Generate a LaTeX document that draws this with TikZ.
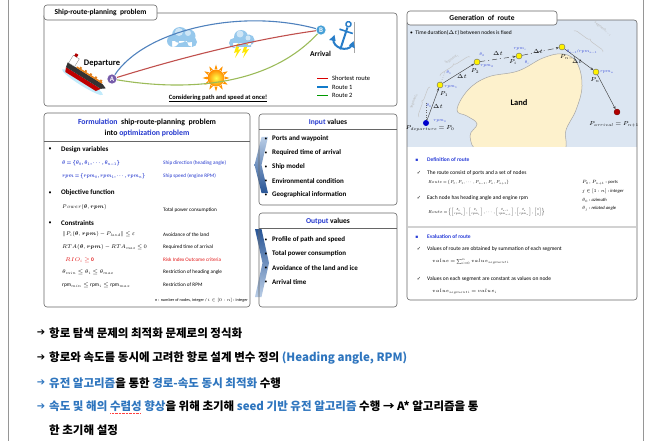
\RequirePackage{fix-cm}
\documentclass[tikz,border=0pt]{standalone}
\usepackage{amsmath}
\usepackage{graphicx}
\usepackage{fontspec}
\setmainfont{Carlito}
\newfontfamily\kr{Noto Sans CJK KR}
\newfontfamily\dv{DejaVu Sans}
\usetikzlibrary{decorations.pathreplacing,arrows.meta}
\newcommand\fsz[1]{\fontsize{#1}{#1}\selectfont}
\newcommand\tightmath{\thinmuskip=2mu\medmuskip=2.5mu\thickmuskip=3mu}
\newcommand\narrow[2]{\scalebox{#1}[1]{#2}}
\newsavebox\spellbox
\newcommand\spellmark[1]{\sbox\spellbox{#1}\rlap{\textcolor{red!75}{\raisebox{-2.8pt}{\hbox to \wd\spellbox{\leaders\hbox to 1.4pt{\hss\rule{0.7pt}{0.6pt}\hss}\hfill}}}}\usebox\spellbox}
\definecolor{framegray}{RGB}{150,150,150}
\definecolor{hdrblue}{RGB}{35,55,205}
\definecolor{korblue}{RGB}{46,117,190}
\definecolor{mapbg}{RGB}{220,230,242}
\definecolor{landfill}{RGB}{253,241,204}
\definecolor{lblblue}{RGB}{40,60,215}
\definecolor{rtblue}{RGB}{79,129,189}
\definecolor{rtred}{RGB}{192,80,77}
\definecolor{rtgreen}{RGB}{155,187,89}
\definecolor{purpleA}{RGB}{118,92,170}
\definecolor{blueB}{RGB}{70,160,215}
\definecolor{anchorblue}{RGB}{40,125,200}
\definecolor{cloudblue}{RGB}{150,200,236}
\definecolor{chevdark}{RGB}{40,85,150}
\definecolor{chevlight}{RGB}{185,205,230}
\definecolor{riskred}{RGB}{225,20,20}
\begin{document}
\begin{tikzpicture}[x=1pt,y=-1pt,
  panel/.style={draw=black!60, line width=0.6pt, rounded corners=3pt},
  tl/.style={inner sep=0pt, anchor=west},
  tr/.style={inner sep=0pt, anchor=east},
  tc/.style={inner sep=0pt},
  portpt/.style={circle, inner sep=0pt, minimum size=10pt, text=white, font=\bfseries\fsz{7}},
  route/.style={line width=1.1pt},
  waypt/.style={circle, inner sep=0pt, minimum size=6pt, draw=black!60, line width=0.4pt, fill=yellow},
  leg/.style={draw=black!75, line width=0.45pt, -{Stealth[length=3pt,width=2.4pt]}},
  rlab/.style={inner sep=0pt, text=lblblue, font=\fsz{4}\tightmath},
  plab/.style={inner sep=0pt, font=\fsz{5.8}\tightmath},
  dtlab/.style={inner sep=0pt, font=\fsz{5.8}},
  seg/.style={draw=gray!45, line width=0.5pt, decorate, decoration={brace, amplitude=3pt}},
  segtxt/.style={inner sep=0pt, text=gray!55, font=\fsz{3.8}},
  body/.style={inner sep=0pt, anchor=west, font=\bfseries\fsz{7}},
  eqn/.style={inner sep=0pt, anchor=west, font=\fsz{5.4}\tightmath},
  small/.style={inner sep=0pt, anchor=west, font=\fsz{5.2}},
  tiny/.style={inner sep=0pt, anchor=west, font=\fsz{5.5}},
  reqn/.style={inner sep=0pt, anchor=west, font=\fsz{4.3}\tightmath},
  note/.style={inner sep=0pt, anchor=west, font=\fsz{4.6}\tightmath},
  kor/.style={inner sep=0pt, anchor=west, font=\kr\bfseries\fsz{11.5}},
  karrow/.style={inner sep=0pt, font=\dv\bfseries\fsz{10}}]
\useasboundingbox (0,0) rectangle (648,441);

% outer page frame
\draw[framegray, line width=0.8pt] (8,0) -- (8,441);
\draw[framegray, line width=0.8pt] (643,0) -- (643,441);

% ---------------- ship route planning problem ----------------
\draw[panel] (44,13) rectangle (397,106);
\draw[panel, fill=white] (44,5) rectangle (157,20);
\node[tc, font=\bfseries\fsz{7.5}] (title1) at (100.5,12.8) {Ship-route-planning\ \ problem};

% ship at departure
\begin{scope}[shift={(84,76)}, rotate=-32]
  \fill[cyan!30, opacity=0.8] (2,6) ellipse (24 and 3.5);
  \fill[red!75!black] (-20,2) -- (21,2) -- (18,6.5) -- (-18,6.5) -- cycle;
  \fill[black!80] (-21,-3) -- (20,-3) -- (25,-1) -- (21,2) -- (-20,2) -- cycle;
  \fill[orange!70!brown] (-11,-4.5) rectangle (19,-3);
  \foreach \xx in {-8,-2,4,10,16} \fill[orange!50!brown] (\xx,-6) rectangle (\xx+2,-3);
  \fill[white, draw=gray, line width=0.3pt] (-20,-12) rectangle (-13,-3);
  \fill[red!70!black] (-19,-15) rectangle (-16,-12);
\end{scope}

% cloud
\begin{scope}[shift={(182,37)}]
  \fill[cloudblue] (-9,4) circle (6) (-2,-2) circle (8) (7,-1) circle (6.5) (10,5) circle (5) (-10,4) rectangle (10,10);
  \fill[white, opacity=0.55] (-3,-5) circle (4) (6,-4) circle (3);
\end{scope}
% thunder cloud
\begin{scope}[shift={(242,40)}]
  \fill[yellow!90!orange] (-5,4) -- (-8,13) -- (-5,12) -- (-7,18) -- (-1,9) -- (-4,10) -- (-2,4) -- cycle;
  \fill[yellow!90!orange] (3,4) -- (0,13) -- (3,12) -- (1,18) -- (7,9) -- (4,10) -- (6,4) -- cycle;
  \fill[cloudblue] (-8,3) circle (5) (-1,-3) circle (7) (7,0) circle (5.5) (-9,3) rectangle (9,7);
  \fill[white, opacity=0.55] (-2,-6) circle (3.5) (6,-2) circle (2.5);
\end{scope}
% sun
\begin{scope}[shift={(216,78)}]
  \foreach \a in {0,30,...,330}
    \fill[orange!85!yellow] (\a:13.5) -- (\a+9:9) -- (\a-9:9) -- cycle;
  \shade[inner color=yellow!70, outer color=orange!90!yellow] (0,0) circle (8.5);
\end{scope}

% anchor at arrival
\draw[gray!70, line width=0.5pt] (354,22) -- (354,53);
\begin{scope}[shift={(344,38)}, rotate=-18, anchorblue]
  \draw[line width=2pt] (0,-11) -- (0,12);
  \draw[line width=1.4pt] (0,-14.5) circle (2.6);
  \draw[line width=1.6pt] (-7,-7) -- (7,-7);
  \draw[line width=2pt] (-10,4) .. controls (-8,13) and (8,13) .. (10,4);
  \fill (-10,0) -- (-13.5,6.5) -- (-7,5.5) -- cycle;
  \fill (10,0) -- (13.5,6.5) -- (7,5.5) -- cycle;
\end{scope}

% ports and routes
\node[portpt, fill=purpleA, draw=white, line width=0.5pt] (ptA) at (112,79) {A};
\node[portpt, fill=blueB, draw=white, line width=0.5pt] (ptB) at (321,30) {B};
\draw[route, rtblue] (ptA) .. controls (145,30) and (240,8) .. (ptB);
\draw[route, rtred] (ptA) .. controls (180,58) and (250,40) .. (ptB);
\draw[route, rtgreen] (ptA) .. controls (190,92) and (270,85) .. (ptB);

\node[tc, font=\bfseries\fsz{8.5}] (dep) at (102,63) {Departure};
\node[tc, font=\bfseries\fsz{7.5}] (arr) at (320.5,53.5) {Arrival};
\node[tc, font=\bfseries\fsz{6.5}] (consider) at (218,98.5) {\underline{Considering path and speed at once!}};

% legend
\draw[red!85!black, line width=1.2pt] (317,78.5) -- (328,78.5);
\draw[cyan!60!blue, line width=1.2pt] (317,87) -- (328,87);
\draw[green!60!black, line width=1.2pt] (317,95.5) -- (328,95.5);
\node[tl, font=\fsz{6.5}] (leg1) at (332,78.5) {Shortest route};
\node[tl, font=\fsz{6.5}] (leg2) at (332,87) {Route 1};
\node[tl, font=\fsz{6.5}] (leg3) at (332,95.5) {Route 2};

% ---------------- formulation ----------------
\draw[panel] (44,113) rectangle (250,307);
\draw[black!60, line width=0.6pt] (44,141) -- (250,141);
\node[tc, font=\bfseries\fsz{7.8}] (form1) at (147,122) {\textcolor{hdrblue}{Formulation}\ \ ship-route-planning\ \ problem};
\node[tc, font=\bfseries\fsz{7.8}] (form2) at (147,133.5) {into \textcolor{hdrblue}{optimization problem}};

\node[tc, font=\fsz{6}] (b1) at (50,149.5) {•};
\node[body] (desv) at (61,149.5) {Design variables};
\node[eqn, text=hdrblue] (eq1) at (62,163) {\narrow{0.78}{$\boldsymbol{\theta = \{\theta_0, \theta_1, \cdots, \theta_{n-1}\}}$}};
\node[eqn, text=hdrblue] (eq2) at (62,176) {\narrow{0.72}{$\boldsymbol{rpm = \{rpm_0, rpm_1, \cdots, rpm_n\}}$}};
\node[small, text=hdrblue] (d1) at (163,163) {Ship direction (heading angle)};
\node[small, text=hdrblue] (d2) at (163,176) {Ship speed (engine RPM)};

\node[tc, font=\fsz{6}] (b2) at (50,193) {•};
\node[body] (objf) at (61,193) {Objective function};
\node[eqn] (eq3) at (62,207.5) {\narrow{0.85}{$Power(\boldsymbol{\theta}, \boldsymbol{rpm})$}};
\node[small] (d3) at (163,210) {Total power consumption};

\node[tc, font=\fsz{6}] (b3) at (50,223) {•};
\node[body] (cons) at (61,223) {Constraints};
\node[eqn] (c1) at (62,234.5) {\narrow{0.9}{$\|P_i(\boldsymbol{\theta}, \boldsymbol{rpm}) - P_{land}\| \le \varepsilon$}};
\node[eqn] (c2) at (62,247) {\narrow{0.9}{$RTA(\boldsymbol{\theta}, \boldsymbol{rpm}) - RTA_{max} \le 0$}};
\node[eqn, text=riskred] (c3) at (65,260) {$RIO_i \ge \mathbf{0}$};
\node[eqn] (c4) at (62,272.5) {$\theta_{min} \le \theta_i \le \theta_{max}$};
\node[eqn] (c5) at (62,285) {$\mathrm{rpm}_{min} \le \mathrm{rpm}_i \le \mathrm{rpm}_{max}$};
\node[small] (d4) at (163,234.5) {Avoidance of the land};
\node[small] (d5) at (163,247) {Required time of arrival};
\node[small, text=riskred] (d6) at (163,260) {Risk Index Outcome criteria};
\node[small] (d7) at (163,272.5) {Restriction of heading angle};
\node[small] (d8) at (163,285) {Restriction of RPM};
\node[tr, font=\fsz{4.2}] (fn) at (248,300) {n : number of nodes, integer / $i \in [0:n]$ : integer};

% chevrons between the panels
\shade[top color=chevlight, bottom color=chevdark] (268,137) -- (261.5,137) -- (254.5,165) -- (261.5,193) -- (268,193) -- (261.5,165) -- cycle;
\shade[top color=chevdark, bottom color=chevlight] (255,229) -- (261.5,229) -- (269,263) -- (261.5,297) -- (255,297) -- (262.5,263) -- cycle;

% ---------------- input values ----------------
\draw[panel] (259,114) rectangle (397,205);
\draw[black!60, line width=0.6pt] (259,129) -- (397,129);
\node[tc, font=\bfseries\fsz{7.5}] (inT) at (328,122) {\textcolor{hdrblue}{Input} values};
\foreach \yy/\txt [count=\k] in {139/Ports and waypoint, 153/Required time of arrival, 167/Ship model, 181/Environmental condition, 195/Geographical information}{
  \node[tc, font=\fsz{5.5}] (inb\k) at (266,\yy) {•};
  \node[body] (in\k) at (272,\yy) {\txt};
}

% ---------------- output values ----------------
\draw[panel] (259,213) rectangle (397,307);
\draw[black!60, line width=0.6pt] (259,228) -- (397,228);
\node[tc, font=\bfseries\fsz{7.5}] (outT) at (328,221) {\textcolor{hdrblue}{Output} values};
\foreach \yy/\txt [count=\k] in {240/Profile of path and speed, 254/Total power consumption, 268/Avoidance of the land and ice, 282/Arrival time}{
  \node[tc, font=\fsz{5.5}] (outb\k) at (266,\yy) {•};
  \node[body] (out\k) at (272,\yy) {\txt};
}

% ---------------- generation of route ----------------
\begin{scope}
  \clip[rounded corners=3pt] (407,20) rectangle (637,300);
  \fill[mapbg] (407,20) rectangle (637,147);
  \clip (407,20) rectangle (637,147);
  \draw[fill=landfill, draw=gray!70, line width=0.5pt] plot[smooth cycle, tension=0.65] coordinates
    {(457,110) (468,90) (488,77) (518,71) (543,58) (563,54) (577,63) (582,86) (576,110) (566,130) (562,152) (520,154) (480,152) (470,136) (477,124) (467,116)};
\end{scope}
\draw[panel] (407,20) rectangle (637,300);
\draw[gray!35, line width=1.3pt] (408,227) -- (636,227);
\draw[panel, fill=white] (407,11) rectangle (557,25);
\node[tc, font=\bfseries\fsz{7.5}] (genT) at (482,18) {Generation\ \ of\ \ route};
\node[tl, font=\fsz{5.5}] (tdur) at (410,33) {•\ \ Time duration($\Delta t$) between nodes is fixed};
\node[tc, font=\bfseries\fsz{8.5}] (landT) at (519,103) {Land};

% route nodes
\node[circle, inner sep=0pt, minimum size=6pt, fill=blue!80!black] (p0) at (426,123) {};
\node[waypt] (p1) at (440,85) {};
\node[waypt] (p2) at (477,62) {};
\node[waypt] (pi) at (519,56) {};
\node[waypt] (pn1) at (562,47) {};
\node[waypt] (pn) at (596,72) {};
\node[circle, inner sep=0pt, minimum size=6pt, fill=red!70!black, draw=red!40!black, line width=0.3pt] (pn2) at (617,112) {};

\draw[black!60, dotted, line width=0.4pt] (p0) -- ++(0,-22);
\draw[black!60, dotted, line width=0.4pt] (p1) -- ++(5,-13);
\draw[leg] (p0) -- (p1);
\draw[leg] (p1) -- (p2);
\draw[leg, dash pattern=on 5pt off 3pt on 1pt off 3pt] (p2) -- (pi);
\draw[leg, dash pattern=on 6pt off 3pt on 1pt off 3pt] (pi) -- (pn1);
\draw[leg] (pn1) -- (pn);
\draw[leg] (pn) -- (pn2);

% node labels
\node[plab] (lp0) at (430,128.5) {$P_{departure} = P_0$};
\node[plab] (lp1) at (444,94) {$P_1$};
\node[plab] (lp2) at (475,71) {$P_2$};
\node[plab] (lpi) at (513,62) {$P_i$};
\node[plab] (lpn1) at (568,57) {$P_{n-1}$};
\node[plab] (lpn) at (595,80) {$P_n$};
\node[plab] (lpn2) at (614,124) {$P_{arrival} = P_{n+1}$};

\node[rlab] (r0) at (440,121) {$rpm_0$};
\node[rlab] (t0) at (429,106) {$\theta_0$};
\node[dtlab] (dt0) at (438,107) {$\Delta t$};
\node[rlab] (r1) at (451,87) {$rpm_1$};
\node[rlab] (t1) at (449,73) {$\theta_1$};
\node[dtlab] (dt1) at (462,77) {$\Delta t$};
\node[rlab] (t2) at (482,55) {$\theta_2$};
\node[rlab] (r2) at (487,66) {$rpm_2$};
\node[dtlab] (dt2) at (498,54) {$\Delta t$};
\node[rlab] (ri) at (520,49.5) {$rpm_i$};
\node[rlab] (ti) at (527,63) {$\theta_i$};
\node[dtlab] (dti) at (538,52) {$\Delta t$};
\node[rlab] (tn1) at (582,51.5) {$\theta_{n-1}$/$rpm_{n-1}$};
\node[dtlab] (dtn1) at (577,62) {$\Delta t$};
\node[rlab] (rn) at (607,72) {$rpm_n$};

% segment braces
\draw[seg] (419,117) -- (430,87);
\node[segtxt, rotate=70] (s0) at (414,101) {Segment$_0$};
\draw[seg] (440,76) -- (470,57);
\node[segtxt, rotate=32] (s1) at (452,59) {Segment$_1$};
\draw[seg] (574,31) -- (603,52);
\node[segtxt, rotate=-38] (sn) at (603,29) {Segment$_{n-1}$};

% definition of route
\node[tc, font=\dv\fsz{4.5}, text=lblblue] (sq1) at (417,160) {▪};
\node[tl, font=\bfseries\fsz{5.5}, text=lblblue] (defT) at (427,160) {Definition of route};
\node[tc, font=\dv\fsz{5}] (ck1) at (419,173) {✓};
\node[tiny] (def1) at (427,173) {The route consist of ports and a set of nodes};
\node[reqn] (rte1) at (428,182.5) {\narrow{0.85}{$Route = \{P_0, P_1, \cdots, P_{n-1}, P_n, P_{n+1}\}$}};
\node[tc, font=\dv\fsz{5}] (ck2) at (419,198) {✓};
\node[tiny] (def2) at (427,198) {Each node has heading angle and engine rpm};
\node[reqn] (rte2) at (428,212) {\narrow{0.88}{$Route = \left\{\left[\begin{smallmatrix}\theta_0\\ rpm_0\end{smallmatrix}\right], \left[\begin{smallmatrix}\theta_1\\ rpm_1\end{smallmatrix}\right], \cdots, \left[\begin{smallmatrix}\theta_{n-1}\\ rpm_{n-1}\end{smallmatrix}\right], \left[\begin{smallmatrix}\theta_n\\ rpm_n\end{smallmatrix}\right], \left[\begin{smallmatrix}0\\ 0\end{smallmatrix}\right]\right\}$}};
\node[note] (nt1) at (582,183) {$P_0, P_{n+1}$ : \textit{ports}};
\node[note] (nt2) at (582,191.5) {$j \in [1:n]$ : \textit{integer}};
\node[note] (nt3) at (582,200) {$\theta_0$ : \textit{azimuth}};
\node[note] (nt4) at (582,208.5) {$\theta_j$ : \textit{related angle}};

% evaluation of route
\node[tc, font=\dv\fsz{4.5}, text=lblblue] (sq2) at (417,237) {▪};
\node[tl, font=\bfseries\fsz{5.5}, text=lblblue] (evT) at (427,237) {Evaluation of route};
\node[tc, font=\dv\fsz{5}] (ck3) at (419,249) {✓};
\node[tiny] (ev1) at (427,249) {Values of route are obtained by summation of each segment};
\node[reqn, font=\fsz{4.8}\tightmath] (sum1) at (432,262) {$value = \sum_{i=0}^{n} value_{segment\,i}$};
\node[tc, font=\dv\fsz{5}] (ck4) at (419,279) {✓};
\node[tiny] (ev2) at (427,279) {Values on each segment are constant as values on node};
\node[reqn, font=\fsz{4.8}\tightmath] (sum2) at (432,292) {$value_{segment\,i} = value_i$};

% ---------------- summary lines ----------------
\node[karrow] (ka1) at (41,333) {➔};
\node[kor] (k1) at (49,333) {항로 탐색 문제의 최적화 문제로의 정식화};
\node[karrow] (ka2) at (41,358) {➔};
\node[kor] (k2) at (49,358) {항로와 속도를 동시에 고려한 항로 설계 변수 정의 \textcolor{korblue}{(Heading angle, RPM)}};
\node[karrow, text=korblue] (ka3) at (41,383) {➔};
\node[kor] (k3) at (49,383) {\textcolor{korblue}{유전 알고리즘}을 통한 \textcolor{korblue}{경로-속도 동시 최적화} 수행};
\node[karrow, text=korblue] (ka4) at (41,407) {➔};
\node[kor] (k4) at (49,407) {\textcolor{korblue}{속도 및 해의 \spellmark{수렴성} 향상}을 위해 초기해 \textcolor{korblue}{seed 기반 유전 알고리즘} 수행 → A* 알고리즘을 통};
\node[kor] (k5) at (49,430) {한 초기해 설정};
\end{tikzpicture}
\end{document}
